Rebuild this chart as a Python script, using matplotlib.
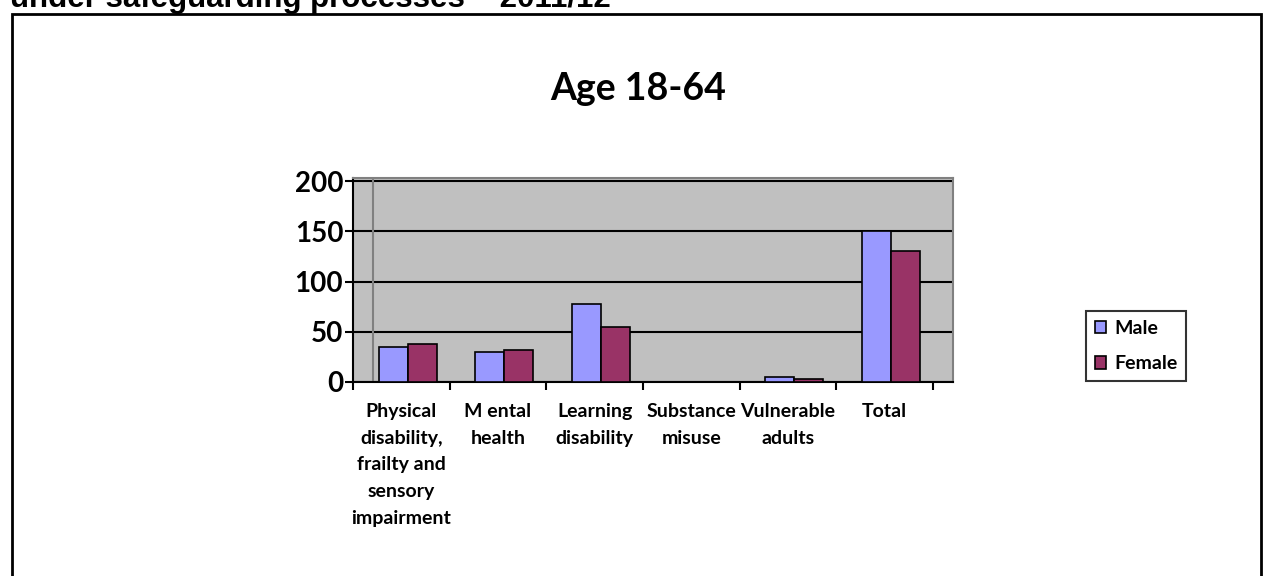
import matplotlib.pyplot as plt
from matplotlib.patches import Rectangle
import numpy as np

categories = ['Physical\ndisability,\nfrailty and\nsensory\nimpairment', 'M ental\nhealth',
              'Learning\ndisability', 'Substance\nmisuse', 'Vulnerable\nadults', 'Total']
male = [35, 30, 78, 0, 5, 150]
female = [38, 32, 55, 0, 3, 130]

W, H = 1266, 576
fig = plt.figure(figsize=(W / 100, H / 100), dpi=100)
plt.rcParams['font.family'] = ['Lato', 'DejaVu Sans']

# outer chart frame
fig.patches.append(Rectangle((12 / W, -0.1), (1261 - 12) / W, 1.1 - 14 / H,
                             transform=fig.transFigure, fill=False, lw=2, ec='black'))

# cut-off heading of the page
fig.text(10 / W, 1 - 7 / H, 'under safeguarding processes \u2013 2011/12', family='Liberation Sans',
         fontsize=22.5, fontweight='bold', va='baseline', ha='left')

fig.text(638 / W, 1 - 100 / H, 'Age 18-64', fontsize=27, fontweight='bold', ha='center', va='baseline')

ax = fig.add_axes([353 / W, (H - 382) / H, 600 / W, 204 / H])
ax.set_facecolor('#C0C0C0')
x = np.arange(len(categories))
ax.bar(x - 0.085, male, width=0.3, color='#9999FF', edgecolor='black', lw=1.2, label='Male', zorder=3)
ax.bar(x + 0.215, female, width=0.3, color='#993366', edgecolor='black', lw=1.2, label='Female', zorder=3)

ax.set_xlim(-0.5, -0.5 + 600 / (580 / 6))
ax.set_ylim(0, 203)
ax.set_yticks([0, 50, 100, 150, 200])
ax.yaxis.grid(True, color='black', lw=1.5, zorder=1)
ax.set_axisbelow(True)
ax.tick_params(axis='y', labelsize=20, length=6, width=1.5, pad=1)
for t in ax.get_yticklabels():
    t.set_fontweight('bold')

ax.set_xticks(np.arange(len(categories) + 1) - 0.5)
ax.set_xticklabels([])
ax.set_xticks(x, categories, minor=True)
ax.tick_params(axis='x', which='major', length=6, width=1.5)
ax.tick_params(axis='x', which='minor', length=0, pad=15)
for t in ax.get_xticklabels(minor=True):
    t.set_fontweight('bold')
    t.set_fontsize(14)
    t.set_linespacing(1.7)
    t.set_va('top')

ax.spines['left'].set_linewidth(1.5)
ax.spines['bottom'].set_linewidth(1.5)
for s in ['top', 'right']:
    ax.spines[s].set_color('#808080')
    ax.spines[s].set_linewidth(1.5)
# back wall left edge
ax.axvline(-0.5 + 20 / (580 / 6), color='#808080', lw=1.5, zorder=2)

leg = fig.legend(loc='upper left', bbox_to_anchor=(1086 / W, 1 - 311 / H), fancybox=False,
                 edgecolor='black', prop={'weight': 'bold', 'size': 14}, handlelength=0.6,
                 handleheight=0.6, handletextpad=0.4, borderpad=0.45, labelspacing=0.95, borderaxespad=0)
leg.get_frame().set_linewidth(1.5)

fig.savefig('out.png', dpi=100)
